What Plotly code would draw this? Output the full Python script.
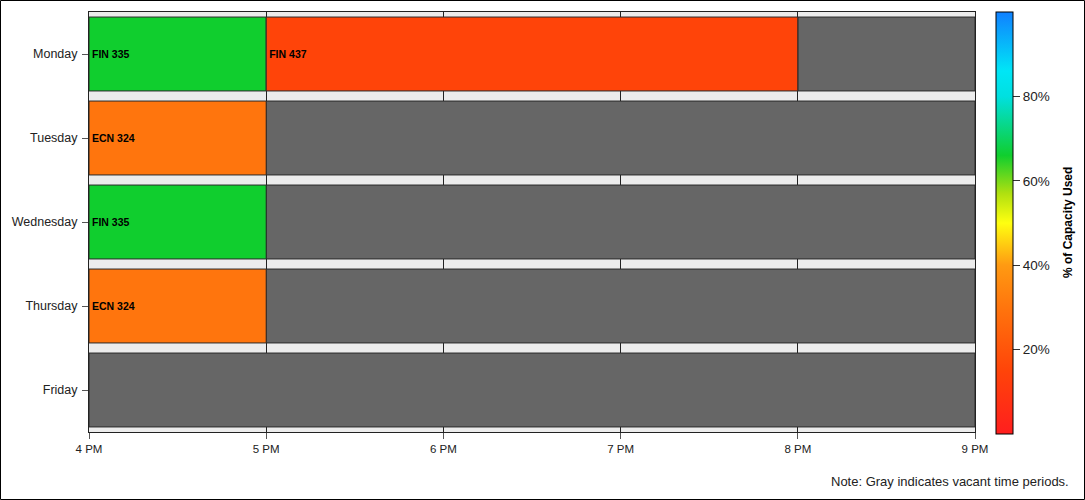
import plotly.graph_objects as go

days = ['Monday', 'Tuesday', 'Wednesday', 'Thursday', 'Friday']

course_day = ['Monday', 'Monday', 'Tuesday', 'Wednesday', 'Thursday']
course_name = ['FIN 335', 'FIN 437', 'ECN 324', 'FIN 335', 'ECN 324']
course_start = [16, 17, 16, 16, 16]
course_end = [17, 20, 17, 17, 17]
course_capacity = [66, 15, 30, 66, 30]

vacant_day = ['Monday', 'Tuesday', 'Wednesday', 'Thursday', 'Friday']
vacant_start = [20, 17, 17, 17, 16]
vacant_end = [21, 21, 21, 21, 21]

hour_vals = [16, 17, 18, 19, 20, 21]
hour_text = ['4 PM', '5 PM', '6 PM', '7 PM', '8 PM', '9 PM']
cbar_vals = [20, 40, 60, 80]
cbar_text = ['20%', '40%', '60%', '80%']

colorscale = [
    [0.0, '#ff1e1e'], [0.15, '#ff4409'], [0.30, '#ff750d'], [0.40, '#ff9a12'],
    [0.50, '#ffff10'], [0.57, '#b0e010'], [0.66, '#10ce2e'], [0.80, '#00e0e0'],
    [0.86, '#00e6f6'], [1.0, '#1080ff'],
]

W, H = 1085, 500
ml, mr, mt, mb = 89, 110, 12, 68
pw, ph = W - ml - mr, H - mt - mb

fig = go.Figure()

fig.add_trace(go.Bar(
    y=vacant_day,
    x=[e - s for s, e in zip(vacant_start, vacant_end)],
    base=vacant_start,
    orientation='h',
    marker=dict(color='#666666', line=dict(color='#2a2a2a', width=1)),
    hoverinfo='skip',
    showlegend=False,
))

fig.add_trace(go.Bar(
    y=course_day,
    x=[e - s for s, e in zip(course_start, course_end)],
    base=course_start,
    orientation='h',
    text=course_name,
    texttemplate='<b>%{text}</b>',
    textposition='inside',
    insidetextanchor='start',
    textfont=dict(family='Liberation Sans, Arial', size=10.5, color='black'),
    marker=dict(
        color=course_capacity,
        colorscale=colorscale,
        cmin=0, cmax=100,
        showscale=True,
        line=dict(color='#2a2a2a', width=1),
        colorbar=dict(
            x=(996 - ml) / pw, xanchor='left', xpad=0,
            y=1, yanchor='top', ypad=0,
            len=422, lenmode='pixels',
            thickness=17, thicknessmode='pixels',
            outlinewidth=1, outlinecolor='black',
            tickmode='array', tickvals=cbar_vals, ticktext=cbar_text,
            ticks='outside', ticklen=7, tickcolor='#333',
            tickfont=dict(family='Liberation Sans, Arial', size=13.5, color='#222'),
        ),
    ),
    hoverinfo='skip',
    showlegend=False,
))

fig.update_layout(
    width=W, height=H,
    margin=dict(l=ml, r=mr, t=mt, b=mb, pad=0),
    paper_bgcolor='white',
    plot_bgcolor='#ececec',
    barmode='overlay',
    bargap=0.12,
    font=dict(family='Liberation Sans, Arial', size=12, color='#222'),
    xaxis=dict(
        range=[16, 21], tickvals=hour_vals, ticktext=hour_text,
        showgrid=True, gridcolor='#222', gridwidth=1,
        showline=True, linecolor='#222', linewidth=1, mirror=True,
        ticks='outside', ticklen=6, tickcolor='#555',
        tickfont=dict(size=11.5, color='#222'),
        zeroline=False, fixedrange=True,
    ),
    yaxis=dict(
        categoryorder='array', categoryarray=days, autorange='reversed',
        showline=True, linecolor='#222', linewidth=1, mirror=True,
        ticks='outside', ticklen=6, tickcolor='#555',
        tickfont=dict(size=12.5, color='#222'),
        ticklabelstandoff=2,
        showgrid=False, fixedrange=True,
    ),
    shapes=[dict(
        type='rect', xref='paper', yref='paper',
        x0=(0.5 - ml) / pw, x1=(W - 0.5 - ml) / pw,
        y0=-(mb - 0.5) / ph, y1=1 + (mt - 0.5) / ph,
        line=dict(color='black', width=1), fillcolor='rgba(0,0,0,0)',
        layer='above',
    )],
    annotations=[
        dict(
            text='Note: Gray indicates vacant time periods.',
            xref='paper', yref='paper',
            x=(1071 - ml) / pw, y=-(481 - mt - ph) / ph,
            xanchor='right', yanchor='middle', showarrow=False,
            font=dict(size=13, color='#222'),
        ),
        dict(
            text='<b>% of Capacity Used</b>',
            xref='paper', yref='paper',
            x=(1068 - ml) / pw, y=(mt + ph - 223) / ph,
            xanchor='center', yanchor='middle', textangle=-90, showarrow=False,
            font=dict(size=12, color='black'),
        ),
    ],
)

fig.write_html('out.html')
